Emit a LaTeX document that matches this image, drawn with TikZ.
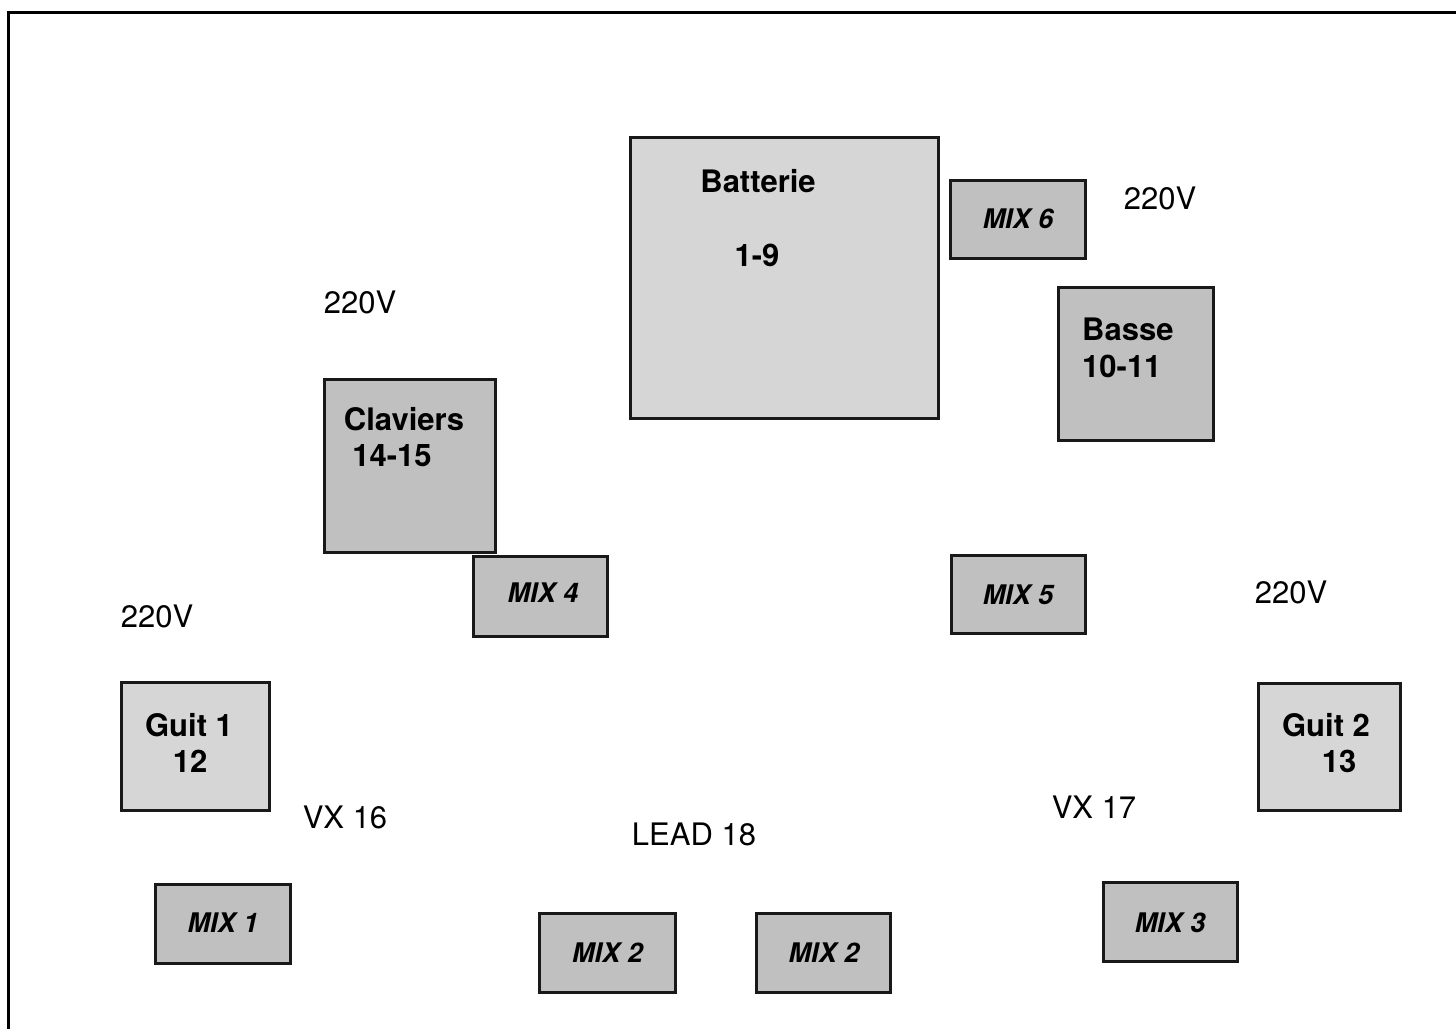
\documentclass[tikz,border=0pt]{standalone}
\usepackage{fontspec}
\setmainfont{TeX Gyre Heros}
\begin{document}
\begin{tikzpicture}[x=1pt,y=-1pt,
  box/.style={draw=black!90,line width=2.5pt,rectangle,inner sep=0pt},
  light/.style={box,fill=lightfill},
  dark/.style={box,fill=darkfill},
  lbl/.style={anchor=base,inner sep=0pt,font=\fontsize{31}{36}\selectfont},
  blbl/.style={lbl,font=\fontsize{31}{36}\selectfont\bfseries},
  mlbl/.style={anchor=base,inner sep=0pt,font=\fontsize{27}{32}\selectfont\bfseries\itshape}]
\definecolor{lightfill}{HTML}{D6D6D6}
\definecolor{darkfill}{HTML}{C0C0C0}
\useasboundingbox (0,0) rectangle (1456,1028);
\draw[line width=3pt] (8,1035) -- (8,12) -- (1462,12);
% boxes
\node[light,minimum width=308,minimum height=281] (batterie) at (784.5,278) {};
\node[dark,minimum width=135,minimum height=78] (mix6) at (1018,219.5) {};
\node[dark,minimum width=155,minimum height=153] (basse) at (1136,364) {};
\node[dark,minimum width=171,minimum height=173] (claviers) at (410,466) {};
\node[dark,minimum width=134,minimum height=80] (mix4) at (540.5,596.5) {};
\node[dark,minimum width=134,minimum height=78] (mix5) at (1018.5,594.5) {};
\node[light,minimum width=148,minimum height=128] (guit1) at (195.5,746.5) {};
\node[light,minimum width=142,minimum height=127] (guit2) at (1329.5,747) {};
\node[dark,minimum width=135,minimum height=79] (mix1) at (223,924) {};
\node[dark,minimum width=136,minimum height=79] (mix2a) at (607.5,953) {};
\node[dark,minimum width=134,minimum height=79] (mix2b) at (823.5,953) {};
\node[dark,minimum width=134,minimum height=79] (mix3) at (1170.5,922) {};
% box texts
\node[blbl] (tbat) at (758,192) {Batterie};
\node[blbl] (tbatn) at (757,266) {1-9};
\node[mlbl] (tmix6) at (1018,228) {MIX 6};
\node[blbl,anchor=base west] (tbasse) at (1082,340) {Basse};
\node[blbl,anchor=base west] (tbassen) at (1082,377) {10-11};
\node[blbl] (tclav) at (404,430) {Claviers};
\node[blbl] (tclavn) at (392,466) {14-15};
\node[mlbl] (tmix4) at (543,602) {MIX 4};
\node[mlbl] (tmix5) at (1018,604) {MIX 5};
\node[blbl] (tg1) at (189,736) {Guit 1};
\node[blbl] (tg1n) at (190,772) {12};
\node[blbl] (tg2) at (1326,736) {Guit 2};
\node[blbl] (tg2n) at (1339,772) {13};
\node[mlbl] (tmix1) at (223,932) {MIX 1};
\node[mlbl] (tmix2a) at (607.5,962) {MIX 2};
\node[mlbl] (tmix2b) at (824,962) {MIX 2};
\node[mlbl] (tmix3) at (1170,932) {MIX 3};
% free labels
\node[lbl] (v1) at (1160,209) {220V};
\node[lbl] (v2) at (360,313) {220V};
\node[lbl] (v3) at (157,627) {220V};
\node[lbl] (v4) at (1291,603) {220V};
\node[lbl] (vx16) at (345,828) {VX 16};
\node[lbl] (vx17) at (1094,818) {VX 17};
\node[lbl] (lead) at (694,845) {LEAD 18};
\end{tikzpicture}
\end{document}
